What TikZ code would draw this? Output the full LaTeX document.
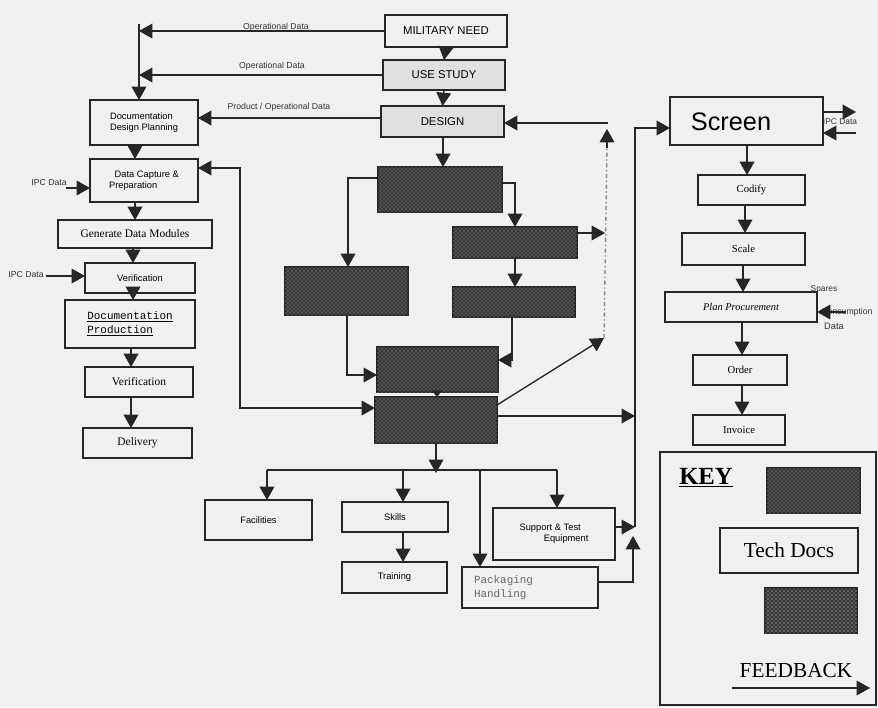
\documentclass[tikz,border=0pt]{standalone}
\usepackage{fontspec}
\setmainfont{Liberation Serif}
\setsansfont{Liberation Sans}
\setmonofont{Liberation Mono}
\usetikzlibrary{arrows.meta,patterns,calc}
\begin{document}
\begin{tikzpicture}[x=0.75pt,y=-0.75pt,
  every node/.style={inner sep=0pt, outer sep=0pt},
  sz/.style 2 args={minimum width=#1*0.75pt, minimum height=#2*0.75pt},
  box/.style={draw=black!85, line width=1.1pt},
  gbox/.style={box, fill=black!12},
  dark/.style={draw=black!85, line width=1.1pt, fill=black!78,
     postaction={pattern=crosshatch dots, pattern color=black!35}},
  ln/.style={draw=black!85, line width=1pt},
  arr/.style={ln, -{Triangle[width=11pt,length=10pt]}},
  sarr/.style={ln, -{Triangle[width=8pt,length=5pt]}},
  lbl/.style={font=\sffamily\fontsize{6.5}{7.5}\selectfont, text=black!80},
  tlbl/.style={font=\sffamily\fontsize{6.3}{7.5}\selectfont, text=black!80},
  ssf/.style={font=\sffamily\fontsize{7}{8.5}\selectfont, align=left},
  ser/.style={font=\rmfamily\fontsize{8}{9.5}\selectfont},
  serl/.style={font=\rmfamily\fontsize{8.6}{10}\selectfont},
  mono/.style={font=\ttfamily\fontsize{8.2}{10.5}\selectfont, align=left},
  captxt/.style={font=\sffamily\fontsize{8.5}{10}\selectfont}
]
\fill[black!6] (0,0) rectangle (878,707);
\useasboundingbox (0,0) rectangle (878,707);

% ---------- top chain ----------
\node[box, sz={122}{32}, captxt] (mn) at (446,31) {MILITARY NEED};
\node[gbox, sz={122}{30}, captxt] (us) at (444,75) {USE STUDY};
\node[gbox, sz={123}{31}, captxt] (de) at (442.5,121.5) {DESIGN};
\draw[arr] (mn.south) -- (us.north);
\draw[arr] (us.south) -- (de.north);

% ---------- left column ----------
\node[box, sz={108}{45}, ssf] (dp) at (144,122.5) {Documentation\\Design Planning};
\node[box, sz={108}{43}, ssf] (dc) at (144,180.5) {\hspace*{0.6em}Data Capture \&\\Preparation};
\node[box, sz={154}{28}, serl] (gd) at (135,234) {Generate Data Modules};
\node[box, sz={110}{30}, ssf] (v1) at (140,278) {Verification};
\node[box, sz={130}{48}, mono] (dpr) at (130,324) {\underline{Documentation}\\\underline{Production}};
\node[box, sz={108}{30}, serl] (v2) at (139,382) {Verification};
\node[box, sz={109}{30}, serl] (dl) at (137.5,443) {Delivery};

\draw[arr] (135,0 |- dp.south) -- (135,0 |- dc.north);
\draw[arr] (135,0 |- dc.south) -- (135,0 |- gd.north);
\draw[arr] (133,0 |- gd.south) -- (133,0 |- v1.north);
\draw[arr] (133,0 |- v1.south) -- (133,0 |- dpr.north);
\draw[arr] (131,0 |- dpr.south) -- (131,0 |- v2.north);
\draw[arr] (131,0 |- v2.south) -- (131,0 |- dl.north);

\coordinate (ipc1) at (66,188);
\coordinate (ipc2) at (46,276);
\node[lbl] at (49,183) {IPC Data};
\node[lbl] at (26,275) {IPC Data};
\draw[arr] (ipc1) -- (ipc1 -| dc.west);
\draw[arr] (ipc2) -- (ipc2 -| v1.west);

% top data arrows
\coordinate (tl) at (139,24);
\draw[arr] (mn.west) -- (mn.west -| tl);
\draw[arr] (us.west) -- (us.west -| tl);
\draw[arr] (tl) -- (tl |- dp.north);
\draw[arr] (de.west |- 0,118) -- (dp.east |- 0,118);
\node[lbl] at (276,27) {Operational Data};
\node[lbl] at (272,66) {Operational Data};
\node[lbl] at (279,107) {Product / Operational Data};

% ---------- middle dark boxes ----------
\node[dark, sz={124}{45}] (a) at (440,189.5) {};
\node[dark, sz={124}{31}] (b) at (515,242.5) {};
\node[dark, sz={123}{48}] (c) at (346.5,291) {};
\node[dark, sz={122}{30}] (d) at (514,302) {};
\node[dark, sz={121}{45}] (e) at (437.5,369.5) {};
\node[dark, sz={122}{46}] (f) at (436,420) {};

\draw[arr] (443,0 |- de.south) -- (443,0 |- a.north);
\draw[arr] (a.west |- 0,178) -| (348,0 |- c.north);
\draw[arr] (a.east |- 0,183) -| (515,0 |- b.north);
\draw[arr] (515,0 |- b.south) -- (515,0 |- d.north);
\draw[arr] (b.east |- 0,233) -- (605,233);
\draw[arr] (347,0 |- c.south) |- (e.west |- 0,375);
\draw[arr] (512,0 |- d.south) |- (e.east |- 0,360);
\draw[sarr] (437,0 |- e.south) -- (437,0 |- f.north);

% feedback to Data Capture
\draw[ln, {Triangle[width=11pt,length=10pt]}-{Triangle[width=11pt,length=10pt]}]
  (dc.east |- 0,168) -| (240,408) -- (f.west |- 0,408);

% feedback to DESIGN
\coordinate (fd1) at (604,338);
\coordinate (fd2) at (608,123);
\draw[arr] (f.east |- 0,405) -- (fd1);
\draw[ln, black!50, dash dot] (fd1) -- (607,148);
\draw[arr] (607,148) -- (607,129);
\draw[arr] (fd2) -- (de.east |- fd2);

% ---------- right column ----------
\node[box, sz={153}{48}] (sc) at (746.5,121) {};
\node[font=\sffamily\fontsize{19}{22}\selectfont] at (731,122) {Screen};
\node[box, sz={107}{30}, ser] (co) at (751.5,190) {Codify};
\node[box, sz={123}{32}, ser] (sa) at (743.5,249) {Scale};
\node[box, sz={152}{30}, font=\rmfamily\itshape\fontsize{7.8}{9}\selectfont] (pp) at (741,307) {Plan Procurement};
\node[box, sz={94}{30}, ser] (or) at (740,370) {Order};
\node[box, sz={92}{30}, ser] (in) at (739,430) {Invoice};

\draw[arr] (747,0 |- sc.south) -- (747,0 |- co.north);
\draw[arr] (745,0 |- co.south) -- (745,0 |- sa.north);
\draw[arr] (743,0 |- sa.south) -- (743,0 |- pp.north);
\draw[arr] (742,0 |- pp.south) -- (742,0 |- or.north);
\draw[arr] (742,0 |- or.south) -- (742,0 |- in.north);

\coordinate (ip3) at (856,112);
\coordinate (ip4) at (856,133);
\node[tlbl] at (840,122) {IPC Data};
\draw[arr] (sc.east |- ip3) -- (ip3);
\draw[arr] (ip4) -- (sc.east |- ip4);

\node[tlbl] at (824,289) {Spares};
\node[font=\sffamily\fontsize{6.5}{8}\selectfont, text=black!80] at (847,312) {Consumption};
\node[font=\sffamily\fontsize{7}{8}\selectfont, text=black!80] at (834,326) {Data};
\coordinate (sp) at (846,312);
\draw[arr] (sp) -- (pp.east |- sp);

% main feedback column to Screen
\coordinate (fv) at (635,527);
\draw[arr] (fv) |- (sc.west |- 0,128);
\draw[arr] (f.east |- 0,416) -- (fv |- 0,416);

% ---------- bottom ----------
\node[box, sz={107}{40}, ssf] (fa) at (258.5,520) {Facilities};
\node[box, sz={106}{30}, ssf] (sk) at (395,517) {Skills};
\node[box, sz={105}{31}, ssf] (tr) at (394.5,577.5) {Training};
\node[box, sz={122}{52}, ssf] (su) at (554,534) {Support \& Test\\\hspace*{2.6em}Equipment};
\node[box, sz={136}{41}, mono, text=black!60, text width=112*0.75pt] (pk) at (530,587.5) {Packaging\\Handling};

\draw[arr] (436,0 |- f.south) -- (436,473);
\coordinate (bl) at (267,470);
\coordinate (br) at (557,470);
\draw[ln] (bl) -- (br);
\draw[arr] (bl) -- (bl |- fa.north);
\draw[arr] (403,470) -- (403,0 |- sk.north);
\draw[arr] (480,470) -- (480,0 |- pk.north);
\draw[arr] (br) -- (br |- su.north);
\draw[arr] (403,0 |- sk.south) -- (403,0 |- tr.north);
\draw[arr] (su.east |- 0,527) -- (fv);
\draw[arr] (pk.east |- 0,582) -| (633,536);

% ---------- key ----------
\node[box, sz={216}{253}] (key) at (768,578.5) {};
\node[font=\rmfamily\bfseries\fontsize{18.5}{20}\selectfont] (kt) at (706,478) {\underline{KEY}};
\node[dark, sz={93}{45}] (k1) at (813.5,490.5) {};
\node[box, sz={138}{45}, font=\rmfamily\fontsize{16}{18}\selectfont] (k2) at (789,550.5) {Tech Docs};
\node[dark, sz={92}{45}, postaction={pattern=dots, pattern color=black!40}] (k3) at (811,610.5) {};
\node[font=\rmfamily\fontsize{16}{18}\selectfont] (fbt) at (796,671) {FEEDBACK};
\coordinate (ka) at (732,688);
\draw[arr] (ka) -- (870,688);
\end{tikzpicture}
\end{document}
